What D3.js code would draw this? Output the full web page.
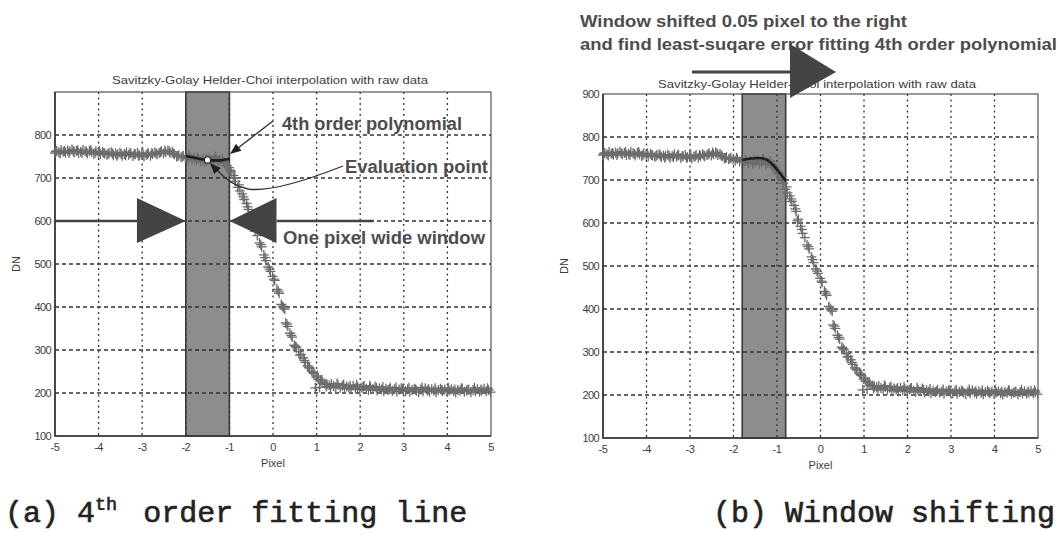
<!DOCTYPE html>
<html>
<head>
<meta charset="utf-8">
<script src="https://cdn.jsdelivr.net/npm/d3@7/dist/d3.min.js"></script>
<style>
  html, body { margin: 0; padding: 0; background: #fff; }
  svg { display: block; }
</style>
</head>
<body>
<svg id="fig" width="1061" height="547"></svg>
<script>
// ---- Axis ticks ----
const pixelTicks = [-5, -4, -3, -2, -1, 0, 1, 2, 3, 4, 5];
const dnTicks = [100, 200, 300, 400, 500, 600, 700, 800, 900];

// ---- Raw edge samples [pixel, DN] ----
const plateauSamples = [
  [-5.00,758],[-4.96,763],[-4.91,760],[-4.86,765],[-4.81,761],[-4.76,759],[-4.71,764],[-4.66,762],
  [-4.61,766],[-4.56,760],[-4.51,763],[-4.46,758],[-4.41,761],[-4.36,765],[-4.31,762],[-4.26,757],
  [-4.21,763],[-4.16,760],[-4.11,756],[-4.06,762],[-4.01,759],[-3.96,755],[-3.91,761],[-3.86,757],
  [-3.81,754],[-3.76,758],[-3.71,760],[-3.66,753],[-3.61,757],[-3.56,755],[-3.51,759],[-3.46,752],
  [-3.41,756],[-3.36,760],[-3.31,754],[-3.26,757],[-3.21,751],[-3.16,755],[-3.11,758],[-3.06,753],
  [-3.01,756],[-2.96,750],[-2.91,754],[-2.86,758],[-2.81,752],[-2.76,756],[-2.71,760],[-2.66,755],
  [-2.61,758],[-2.56,762],[-2.51,757],[-2.46,760],[-2.41,764],[-2.36,758],[-2.31,761],[-2.26,755],
  [-2.21,750],[-2.16,753],[-2.11,748],[-2.06,752],
  [-4.98,761],[-4.88,757],[-4.78,763],[-4.68,758],[-4.58,762],[-4.48,765],[-4.38,758],[-4.28,761],
  [-4.18,765],[-4.08,759],[-3.98,762],[-3.88,758],[-3.78,756],[-3.68,757],[-3.58,752],[-3.48,756],
  [-3.38,753],[-3.28,759],[-3.18,756],[-3.08,752],[-2.98,757],[-2.88,755],[-2.78,758],[-2.68,757],
  [-2.58,760],[-2.48,764],[-2.38,762],[-2.28,757],[-2.18,751],[-2.08,750]
];
const edgeSamples = [
  [-2.01,747],[-1.96,745],[-1.91,749],[-1.86,743],[-1.81,746],[-1.76,741],[-1.71,744],[-1.66,739],
  [-1.61,743],[-1.56,738],[-1.51,741],[-1.46,745],[-1.41,737],[-1.36,742],[-1.31,747],[-1.26,736],
  [-1.21,740],[-1.16,744],[-1.11,734],[-1.06,729],[-1.01,724],[-0.96,714],[-0.91,706],[-0.86,692],
  [-0.81,678],[-0.76,670],[-0.71,663],[-0.66,650],[-0.61,641],[-0.56,627],[-0.51,609],[-0.46,592],
  [-0.41,576],[-0.36,566],[-0.31,549],[-0.26,540],[-0.21,521],[-0.16,508],[-0.11,493],[-0.06,483],
  [-0.01,471],[0.04,462],[0.09,441],[0.14,432],[0.19,406],[0.24,398],[0.29,363],[0.34,355],
  [0.39,339],[0.44,330],[0.49,311],[0.54,305],[0.59,296],[0.64,290],[0.69,282],[0.74,271],
  [0.79,263],[0.84,258],[0.89,251],[0.94,245],[0.99,237],[1.04,232],[1.09,228],[1.14,225],
  [1.19,222],[1.24,220],[1.29,218],[1.34,221],[1.39,216],
  [-1.93,752],[-1.73,748],[-1.53,746],[-1.33,750],[-1.13,738],[-0.98,718],[-0.88,700],[-0.78,684],
  [-0.68,656],[-0.58,633],[-0.53,605],[-0.43,585],[-0.28,545],[-0.18,515],[-0.08,488],[0.02,465],
  [0.12,437],[0.22,402],[0.27,395],[0.32,360],[0.42,334],[0.52,308],[0.62,288],[0.72,276],
  [0.82,260],[0.92,248],[0.97,212],[1.02,240],[1.07,213],[1.12,230],[1.22,215],[1.32,212]
];
const tailSamples = [
  [1.44,214],[1.49,219],[1.54,212],[1.59,217],[1.64,210],[1.69,215],[1.74,213],[1.79,209],
  [1.84,217],[1.89,211],[1.94,214],[1.99,208],[2.04,212],[2.09,216],[2.14,210],[2.19,207],
  [2.24,213],[2.29,209],[2.34,215],[2.39,206],[2.44,211],[2.49,208],[2.54,204],[2.59,210],
  [2.64,207],[2.69,212],[2.74,205],[2.79,209],[2.84,203],[2.89,208],[2.94,211],[2.99,206],
  [3.04,204],[3.09,209],[3.14,203],[3.19,207],[3.24,210],[3.29,205],[3.34,202],[3.39,208],
  [3.44,204],[3.49,211],[3.54,206],[3.59,203],[3.64,209],[3.69,205],[3.74,202],[3.79,207],
  [3.84,210],[3.89,204],[3.94,208],[3.99,203],[4.04,206],[4.09,209],[4.14,204],[4.19,201],
  [4.24,207],[4.29,205],[4.34,210],[4.39,203],[4.44,206],[4.49,208],[4.54,202],[4.59,207],
  [4.64,204],[4.69,209],[4.74,203],[4.79,206],[4.84,210],[4.89,204],[4.94,207],[4.99,202],
  [1.47,222],[1.62,220],[1.77,216],[1.92,219],[2.07,215],[2.22,217],[2.37,212],[2.52,214],
  [2.67,209],[2.82,213],[2.97,210],[3.12,212],[3.27,208],[3.42,213],[3.57,209],[3.72,211],
  [3.87,207],[4.02,212],[4.17,208],[4.32,211],[4.47,207],[4.62,212],[4.77,208],[4.92,211]
];

// ---- Fitted 4th-order polynomial inside each window ----
const fitPixelA = [-2.0, -1.8, -1.6, -1.5, -1.4, -1.2, -1.0];
const fitDNA    = [751, 747, 743, 742, 741, 741, 744];
const fitPixelB = [-1.8, -1.6, -1.4, -1.25, -1.1, -0.95, -0.8];
const fitDNB    = [746, 750, 751, 748, 736, 718, 698];

// ---- Windows and evaluation point ----
const windowA = [-2.0, -1.0];
const windowB = [-1.8, -0.8];
const evalPoint = [-1.5, 742];

const titleText = "Savitzky-Golay Helder-Choi interpolation with raw data";

const svg = d3.select("#fig");
const allSamples = plateauSamples.concat(edgeSamples, tailSamples);

function drawPanel(opt) {
  const x = d3.scaleLinear().domain([-5, 5]).range([opt.left, opt.right]);
  const y = d3.scaleLinear().domain([100, 900]).range([opt.bottom, opt.top]);
  const g = svg.append("g");

  // title
  g.append("text")
    .attr("x", opt.titleX).attr("y", opt.titleY)
    .attr("text-anchor", "middle")
    .attr("font-family", "Liberation Sans, Arial, sans-serif")
    .attr("font-size", 11.5).attr("fill", "#3c3c3c")
    .attr("textLength", opt.titleLen).attr("lengthAdjust", "spacingAndGlyphs")
    .text(titleText);

  // processing window
  g.append("rect")
    .attr("x", x(opt.win[0])).attr("y", y(900))
    .attr("width", x(opt.win[1]) - x(opt.win[0]))
    .attr("height", y(100) - y(900))
    .attr("fill", "#8d8d8d").attr("stroke", "#3a3a3a").attr("stroke-width", 1.6);

  // grid
  g.append("g").selectAll("line")
    .data(pixelTicks.slice(1, -1)).join("line")
    .attr("x1", d => x(d)).attr("x2", d => x(d))
    .attr("y1", y(900)).attr("y2", y(100))
    .attr("stroke", "#333").attr("stroke-width", 1.3)
    .attr("stroke-dasharray", "2,3.5");
  g.append("g").selectAll("line")
    .data(dnTicks.slice(1, -1)).join("line")
    .attr("x1", x(-5)).attr("x2", x(5))
    .attr("y1", d => y(d)).attr("y2", d => y(d))
    .attr("stroke", "#333").attr("stroke-width", 1.3)
    .attr("stroke-dasharray", "4,3");

  // frame
  g.append("rect")
    .attr("x", x(-5)).attr("y", y(900))
    .attr("width", x(5) - x(-5)).attr("height", y(100) - y(900))
    .attr("fill", "none").attr("stroke", "#555").attr("stroke-width", 1.2);
  g.append("path")
    .attr("d", `M${x(-5)},${y(900)}V${y(100)}H${x(5)}`)
    .attr("fill", "none").attr("stroke", "#333").attr("stroke-width", 1.6);

  // tick labels
  const lab = g.append("g")
    .attr("font-family", "Liberation Sans, Arial, sans-serif")
    .attr("font-size", 11).attr("fill", "#3c3c3c");
  lab.selectAll("text.xt").data(pixelTicks).join("text")
    .attr("class", "xt")
    .attr("x", d => x(d)).attr("y", y(100) + 15)
    .attr("text-anchor", "middle")
    .attr("letter-spacing", -0.5)
    .text(d => d);
  lab.selectAll("text.yt").data(opt.yLabels).join("text")
    .attr("class", "yt")
    .attr("x", x(-5) - 4).attr("y", d => y(d) + 4)
    .attr("text-anchor", "end")
    .attr("letter-spacing", -0.6)
    .text(d => d);
  lab.append("text")
    .attr("x", (x(-5) + x(5)) / 2).attr("y", y(100) + 31)
    .attr("text-anchor", "middle").text("Pixel");
  lab.append("text")
    .attr("transform", `translate(${x(-5) - 35},${y(500)}) rotate(-90)`)
    .attr("text-anchor", "middle").text("DN");

  // raw samples
  g.append("g").selectAll("path")
    .data(allSamples).join("path")
    .attr("transform", d => `translate(${x(d[0])},${y(d[1])})`)
    .attr("d", "M-5,0H5M0,-5V5")
    .attr("stroke", "#6c6c6c").attr("stroke-width", 1.3).attr("fill", "none");

  // fitted polynomial
  const fitPts = opt.fitX.map((v, i) => [v, opt.fitY[i]]);
  g.append("path")
    .datum(fitPts)
    .attr("d", d3.line().x(d => x(d[0])).y(d => y(d[1])).curve(d3.curveCatmullRom))
    .attr("fill", "none").attr("stroke", "#1e1e1e").attr("stroke-width", 2.6);

  return { x, y, g };
}

const A = drawPanel({
  left: 55, right: 491, top: 92, bottom: 436,
  titleX: 270, titleY: 84, titleLen: 316,
  win: windowA, fitX: fitPixelA, fitY: fitDNA,
  yLabels: dnTicks.slice(0, -1)
});
const B = drawPanel({
  left: 603, right: 1038, top: 94, bottom: 438,
  titleX: 817, titleY: 88, titleLen: 318,
  win: windowB, fitX: fitPixelB, fitY: fitDNB,
  yLabels: dnTicks
});

// ---- Annotations ----
const annoColor = "#4d4d4d";
const boldFont = "Liberation Sans, Arial, sans-serif";

function arrowHead(g, tip, from, len, half) {
  const dx = tip[0] - from[0], dy = tip[1] - from[1];
  const L = Math.hypot(dx, dy), ux = dx / L, uy = dy / L;
  const bx = tip[0] - ux * len, by = tip[1] - uy * len;
  g.append("path")
    .attr("d", `M${tip[0]},${tip[1]}L${bx - uy * half},${by + ux * half}L${bx + uy * half},${by - ux * half}Z`)
    .attr("fill", "#222");
}

function boldLabel(g, x, y, size, len, text) {
  g.append("text")
    .attr("x", x).attr("y", y)
    .attr("font-family", boldFont).attr("font-weight", "bold")
    .attr("font-size", size).attr("fill", annoColor)
    .attr("textLength", len).attr("lengthAdjust", "spacingAndGlyphs")
    .text(text);
}

// panel (a)
{
  const { x, y, g } = A;
  // evaluation point
  g.append("circle")
    .attr("cx", x(evalPoint[0])).attr("cy", y(evalPoint[1])).attr("r", 3.2)
    .attr("fill", "#fff").attr("stroke", "#222").attr("stroke-width", 1.2);

  // "One pixel wide window" double arrow at DN 600
  const yc = y(600);
  g.append("line")
    .attr("x1", x(-5)).attr("x2", x(-3.12)).attr("y1", yc).attr("y2", yc)
    .attr("stroke", "#444").attr("stroke-width", 2.4);
  g.append("path")
    .attr("d", `M${x(-3.12)},${yc - 23}L${x(windowA[0])},${yc}L${x(-3.12)},${yc + 22}Z`)
    .attr("fill", "#444");
  g.append("path")
    .attr("d", `M${x(0.08)},${yc - 23}L${x(windowA[1])},${yc}L${x(0.08)},${yc + 22}Z`)
    .attr("fill", "#444");
  g.append("line")
    .attr("x1", x(0.08)).attr("x2", x(2.3)).attr("y1", yc).attr("y2", yc)
    .attr("stroke", "#444").attr("stroke-width", 2.4);

  boldLabel(g, 282, 130, 17.5, 180, "4th order polynomial");
  boldLabel(g, 345, 173, 17.5, 143, "Evaluation point");
  boldLabel(g, 283, 244, 17.5, 202, "One pixel wide window");

  // pointer to the polynomial
  g.append("line")
    .attr("x1", 273).attr("y1", 121).attr("x2", 238).attr("y2", 148)
    .attr("stroke", "#333").attr("stroke-width", 1.3);
  arrowHead(g, [230, 154], [273, 121], 11, 4.5);

  // pointer to the evaluation point
  g.append("path")
    .attr("d", "M343,166C305,181 268,192 248,189C234,186 224,178 217,170")
    .attr("fill", "none").attr("stroke", "#333").attr("stroke-width", 1.3);
  arrowHead(g, [210, 163], [224, 178], 11, 4.5);
}

// panel (b)
{
  const g = B.g;
  boldLabel(g, 580, 27, 16.5, 327, "Window shifted 0.05 pixel to the right");
  boldLabel(g, 580, 50, 16.5, 477, "and find least-suqare error fitting 4th order polynomial");

  g.append("line")
    .attr("x1", 692).attr("x2", 792).attr("y1", 72).attr("y2", 72)
    .attr("stroke", "#444").attr("stroke-width", 3);
  g.append("path")
    .attr("d", "M790,44L836,72L790,98Z")
    .attr("fill", "#444");
}

// ---- Captions ----
const cap = svg.append("g")
  .attr("font-family", "Liberation Mono, DejaVu Sans Mono, monospace")
  .attr("font-size", 30).attr("fill", "#222")
  .attr("stroke", "#222").attr("stroke-width", 0.6);
const capA = cap.append("text").attr("x", 5).attr("y", 522);
capA.append("tspan").text("(a) 4");
capA.append("tspan").attr("font-size", 18.5).attr("dy", -12).text("th");
capA.append("tspan").attr("dy", 12).attr("dx", 8).text(" order fitting line");
cap.append("text").attr("x", 713).attr("y", 522).text("(b) Window shifting");
</script>
</body>
</html>
